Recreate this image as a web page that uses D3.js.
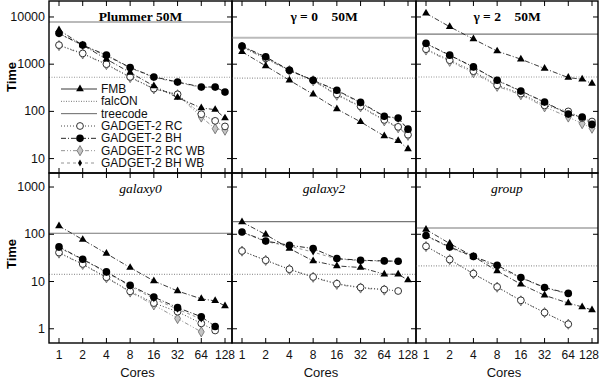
<!DOCTYPE html>
<html>
<head>
<meta charset="utf-8">
<script src="https://cdn.jsdelivr.net/npm/d3@7"></script>
<style>
  body { margin: 0; background: #fff; }
  svg { display: block; }
</style>
</head>
<body>
<div id="chart"></div>
<script>
// Cores on the x axis (96 is an extra point between 64 and 128)
const cores = [1, 2, 4, 8, 16, 32, 64, 96, 128];
const xTicks = [1, 2, 4, 8, 16, 32, 64, 128];
const yTicksTop = [10, 100, 1000, 10000];
const yTicksBottom = [1, 10, 100, 1000];

const panelTitles = ['Plummer 50M', 'γ = 0    50M', 'γ = 2    50M', 'galaxy0', 'galaxy2', 'group'];
const seriesNames = ['FMB', 'GADGET-2 RC', 'GADGET-2 BH', 'GADGET-2 RC WB', 'GADGET-2 BH WB'];

// one row per panel, values follow "cores"
const fmb = [
    [5280, 2536, 1277, 666, 345, 196, 118, 109, 72],
    [1830, 920, 457, 230, 112, 60, 30, 24, 16],
    [11960, 6215, 3400, 1890, 1277, 810, 520, 480, 389],
    [150, 77, 39, 19.7, 10.3, 6.3, 4.3, 3.9, 3.05],
    [182, 98.5, 50, 27.3, 21.4, 19.8, 14.3, 14.3, 10.7],
    [126, 63.6, 34, 16.7, 8.8, 5.1, 3.5, 2.9, 2.5]
];
const gadgetRC = [
    [2536, 1690, 1000, 537, 304, 230, 87, 63, 48],
    [2350, 1330, 745, 455, 230, 128, 66, 47, 32],
    [2080, 1216, 710, 358, 238, 134, 100, 72, 61],
    [41, 23.5, 12.3, 6.2, 3.5, 2.3, 1.3, 0.92, null],
    [44.3, 28.2, 18.2, 12.5, 9.0, 7.5, 6.8, 6.3, null],
    [55.7, 29.2, 14.7, 7.7, 4.0, 2.2, 1.25, null, null]
];
const gadgetBH = [
    [4500, 2536, 1555, 850, 537, 420, 329, 329, 257],
    [2415, 1430, 745, 457, 280, 155, 79, 72, 42],
    [2760, 1555, 877, 457, 271, 158, 88, 76, 53],
    [54, 29.6, 16, 8.3, 4.7, 2.8, 1.8, 1.12, null],
    [112, 72, 58.5, 50, 30.6, 28.2, 27.3, 26.9, null],
    [94, 54, 34, 22, 12.2, 7.5, 5.6, null, null]
];
const gadgetRCWB = [
    [2480, 1650, 980, 520, 300, 225, 76, 43, 40],
    [2300, 1300, 730, 445, 220, 125, 63, 45, 31],
    [2000, 1150, 660, 340, 225, 125, 76, 55, 44],
    [40, 23, 12, 6.0, 3.2, 1.65, 0.86, null, null],
    [44, 28, 18, 12.3, 8.7, 7.3, 6.6, null, null],
    [55, 29, 14.5, 7.6, 3.9, 2.2, 1.25, null, null]
];
const gadgetBHWB = [
    [4400, 2480, 1500, 830, 525, 410, 322, 322, 250],
    [2380, 1400, 735, 450, 272, 150, 77, 70, 41],
    [2700, 1520, 860, 448, 265, 155, 86, 74, 51],
    [52, 29, 15.5, 8.0, 4.3, 2.6, 1.6, null, null],
    [110, 70, 56, 42, 30, 27.8, 27, 26.5, null],
    [92, 52, 33, 20, 12, 7.3, 5.5, null, null]
];
// reference timings drawn as horizontal lines
const falconTime = [529, 508, 535, 14.1, 14.1, 21.4];
const treecodeTime = [7830, 3650, 4330, 105, 185, 136];

// styles
const seriesData = [fmb, gadgetRC, gadgetBH, gadgetRCWB, gadgetBHWB];
const seriesStyle = [
    { stroke: '#222', dash: '5,2,1,2', marker: 'triangle' },
    { stroke: '#333', dash: '1,2', marker: 'openCircle' },
    { stroke: '#111', dash: '5,2,1,2', marker: 'filledCircle' },
    { stroke: '#888', dash: '4,2,1,2,1,2', marker: 'grayDiamond' },
    { stroke: '#888', dash: '3,3', marker: 'smallDiamond' }
];

const W = 600, H = 378;
const colEdges = [49, 232, 416, 598];
const rowEdges = [[1, 173], [173, 343]];

const svg = d3.select('#chart').append('svg')
    .attr('width', W)
    .attr('height', H)
    .style('font-family', '"Liberation Sans", Arial, sans-serif');

const yScales = [
    d3.scaleLog().domain([4.95, 22900]).range([173, 0]),
    d3.scaleLog().domain([0.5, 1980]).range([343, 173])
];

function drawMarker(g, type, x, y) {
    if (type === 'triangle') {
        g.append('path').attr('d', d3.symbol(d3.symbolTriangle, 26)())
            .attr('transform', `translate(${x},${y})`).attr('fill', '#000');
    } else if (type === 'openCircle') {
        g.append('circle').attr('cx', x).attr('cy', y).attr('r', 3.4)
            .attr('fill', '#fff').attr('stroke', '#333').attr('stroke-width', 1);
    } else if (type === 'filledCircle') {
        g.append('circle').attr('cx', x).attr('cy', y).attr('r', 3.8).attr('fill', '#000');
    } else if (type === 'grayDiamond') {
        g.append('path').attr('d', d3.symbol(d3.symbolDiamond, 30)())
            .attr('transform', `translate(${x},${y})`)
            .attr('fill', '#c4c4c4').attr('stroke', '#666').attr('stroke-width', 0.8);
    } else if (type === 'smallDiamond') {
        g.append('path').attr('d', d3.symbol(d3.symbolDiamond, 14)())
            .attr('transform', `translate(${x},${y})`).attr('fill', '#000');
    }
}

panelTitles.forEach((title, i) => {
    const row = Math.floor(i / 3), col = i % 3;
    const x0 = colEdges[col], x1 = colEdges[col + 1];
    const [y0, y1] = rowEdges[row];
    const yScale = yScales[row];
    const xScale = d3.scaleLog().base(2).domain([1, 128]).range([x0 + 10, x0 + 176]);

    const clipId = 'clip' + i;
    svg.append('clipPath').attr('id', clipId)
        .append('rect').attr('x', x0).attr('y', y0).attr('width', x1 - x0).attr('height', y1 - y0);
    const g = svg.append('g').attr('clip-path', `url(#${clipId})`);

    // treecode (solid gray) and falcON (dotted gray)
    g.append('line')
        .attr('x1', x0).attr('x2', x1)
        .attr('y1', yScale(treecodeTime[i])).attr('y2', yScale(treecodeTime[i]))
        .attr('stroke', i === 1 ? '#bbb' : '#777')
        .attr('stroke-width', i === 1 ? 2 : 1.1);
    g.append('line')
        .attr('x1', x0).attr('x2', x1)
        .attr('y1', yScale(falconTime[i])).attr('y2', yScale(falconTime[i]))
        .attr('stroke', '#999').attr('stroke-width', 1.2)
        .attr('stroke-dasharray', '1,1.5');

    const line = d3.line()
        .defined(d => d[1] != null)
        .x(d => xScale(d[0]))
        .y(d => yScale(d[1]));

    // draw series in reverse so FMB / BH sit on top
    [4, 3, 1, 0, 2].forEach(s => {
        const pts = cores.map((c, k) => [c, seriesData[s][i][k]]);
        g.append('path').datum(pts)
            .attr('d', line)
            .attr('fill', 'none')
            .attr('stroke', seriesStyle[s].stroke)
            .attr('stroke-width', 0.9)
            .attr('stroke-dasharray', seriesStyle[s].dash);
    });
    [3, 1, 0, 2, 4].forEach(s => {
        cores.forEach((c, k) => {
            const v = seriesData[s][i][k];
            if (v == null) return;
            drawMarker(g, seriesStyle[s].marker, xScale(c), yScale(v));
        });
    });

    // x ticks: top and bottom edge of each panel, pointing inward
    xTicks.forEach(t => {
        const x = xScale(t);
        svg.append('line').attr('x1', x).attr('x2', x).attr('y1', y0).attr('y2', y0 + 5)
            .attr('stroke', '#000').attr('stroke-width', 1);
        svg.append('line').attr('x1', x).attr('x2', x).attr('y1', y1).attr('y2', y1 - 5)
            .attr('stroke', '#000').attr('stroke-width', 1);
    });
    // y ticks: left and right edge
    const yTicks = row === 0 ? yTicksTop : yTicksBottom;
    yTicks.forEach(t => {
        const y = yScale(t);
        svg.append('line').attr('x1', x0).attr('x2', x0 + 5).attr('y1', y).attr('y2', y)
            .attr('stroke', '#000').attr('stroke-width', 1);
        svg.append('line').attr('x1', x1).attr('x2', x1 - 5).attr('y1', y).attr('y2', y)
            .attr('stroke', '#000').attr('stroke-width', 1);
    });

    // y tick labels on the first column only
    if (col === 0) {
        yTicks.forEach(t => {
            svg.append('text')
                .attr('x', x0 - 4).attr('y', yScale(t))
                .attr('text-anchor', 'end').attr('dominant-baseline', 'central')
                .style('font-size', '12.5px').style('fill', '#111')
                .text(t);
        });
        svg.append('text')
            .attr('transform', `translate(11,${row === 0 ? 77 : 254}) rotate(-90)`)
            .attr('text-anchor', 'middle').attr('dominant-baseline', 'central')
            .style('font-size', '13px').style('font-weight', 'bold')
            .text('Time');
    }

    // x tick labels on the bottom row
    if (row === 1) {
        xTicks.forEach(t => {
            svg.append('text')
                .attr('x', Math.min(xScale(t), W - 11)).attr('y', 355)
                .attr('text-anchor', 'middle').attr('dominant-baseline', 'central')
                .style('font-size', '12px').style('fill', '#111')
                .text(t);
        });
        svg.append('text')
            .attr('x', (x0 + x1) / 2 - 3).attr('y', 372)
            .attr('text-anchor', 'middle').attr('dominant-baseline', 'central')
            .style('font-size', '13px').style('fill', '#111')
            .text('Cores');
    }

    // panel title
    svg.append('text')
        .attr('x', (x0 + x1) / 2).attr('y', row === 0 ? 16 : 188)
        .attr('text-anchor', 'middle').attr('dominant-baseline', 'central')
        .style('font-family', '"Liberation Serif", "Times New Roman", serif')
        .style('font-size', '13.5px')
        .style('font-weight', row === 0 ? 'bold' : 'normal')
        .style('font-style', row === 0 ? 'normal' : 'italic')
        .style('white-space', 'pre')
        .attr('xml:space', 'preserve')
        .text(title);

    // frame
    svg.append('rect')
        .attr('x', x0).attr('y', y0).attr('width', x1 - x0).attr('height', y1 - y0)
        .attr('fill', 'none').attr('stroke', '#000').attr('stroke-width', 1.4);
});

// legend inside the first panel
const legendNames = ['FMB', 'falcON', 'treecode'].concat(seriesNames.slice(1));
const legendY = d3.scalePoint().domain(legendNames).range([89, 163]);
const lg = svg.append('g');
legendNames.forEach(name => {
    const y = legendY(name);
    const ln = lg.append('line').attr('x1', 61).attr('x2', 97).attr('y1', y).attr('y2', y)
        .attr('stroke-width', 0.9);
    if (name === 'FMB') {
        ln.attr('stroke', '#222');
        drawMarker(lg, 'triangle', 80, y);
    } else if (name === 'falcON') {
        ln.attr('stroke', '#666').attr('stroke-dasharray', '1,1.5');
    } else if (name === 'treecode') {
        ln.attr('stroke', '#555');
    } else {
        const s = seriesNames.indexOf(name);
        ln.attr('stroke', seriesStyle[s].stroke).attr('stroke-dasharray', seriesStyle[s].dash);
        drawMarker(lg, seriesStyle[s].marker, 80, y);
    }
    lg.append('text')
        .attr('x', 101).attr('y', y)
        .attr('dominant-baseline', 'central')
        .style('font-size', '12px').style('fill', '#111')
        .text(name);
});
</script>
</body>
</html>
